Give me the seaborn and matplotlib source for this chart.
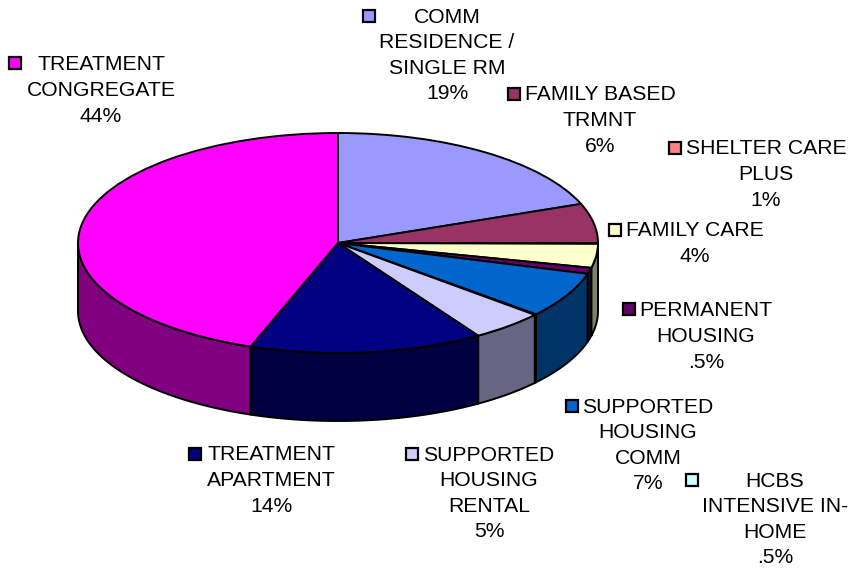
import numpy as np
import matplotlib
matplotlib.use('Agg')
import matplotlib.pyplot as plt
from matplotlib.patches import Rectangle
from matplotlib.transforms import Affine2D
import seaborn as sns

# slices, clockwise from 12 o'clock. values, the printed
# percentages are the rounded ones in the labels
categories = ['COMM\nRESIDENCE /\nSINGLE RM', 'FAMILY BASED\nTRMNT', 'SHELTER CARE\nPLUS',
              'FAMILY CARE', 'PERMANENT\nHOUSING', 'SUPPORTED\nHOUSING\nCOMM',
              'HCBS\nINTENSIVE IN-\nHOME', 'SUPPORTED\nHOUSING\nRENTAL',
              'TREATMENT\nAPARTMENT', 'TREATMENT\nCONGREGATE']
values = [19.2, 5.8, 0.1, 3.5, 0.9, 6.7, 0.1, 4.6, 14.5, 44.5]
percent_text = ['19%', '6%', '1%', '4%', '.5%', '7%', '.5%', '5%', '14%', '44%']
colors = ['#9999FF', '#993366', '#FF8080', '#FFFFCC', '#660066',
          '#0066CC', '#CCFFFF', '#CCCCFF', '#000080', '#FF00FF']

# label layout in pixels: text centre x, first line y, key x, key y
label_pos = [(447, 16, 369, 16), (600, 94, 514, 94), (766, 148, 675, 148),
             (695, 230, 615, 230), (706, 310, 629, 309), (648, 406, 572, 406),
             (775, 480, 692, 480), (489, 454, 412, 454), (271, 454, 195, 454),
             (101, 64, 15, 63)]

W, H = 850, 569
CX, CY, RX, RY, DEPTH = 338, 243, 260, 110, 68
LINE_H = 26

sns.set_theme(style='white')
plt.rcParams['font.family'] = ['Liberation Sans', 'DejaVu Sans']
palette = sns.color_palette(colors)

fig = plt.figure(figsize=(W / 100, H / 100), dpi=100)
ax = fig.add_axes([0, 0, 1, 1])

# top face, the axes limits squash the circle into the ellipse
ax.pie(values, colors=palette, startangle=90, counterclock=False, radius=1,
       wedgeprops={'edgecolor': 'black', 'linewidth': 1.4, 'zorder': 3})
ax.set_aspect('auto')
ax.set_xlim(-CX / RX, (W - CX) / RX)
ax.set_ylim((CY - H) / RY, CY / RY)

# side wall, only the front half shows
edges = np.cumsum([0] + values) / sum(values) * 2 * np.pi
depth = DEPTH / RY
for i in range(len(values)):
    a0 = max(edges[i], np.pi / 2)
    a1 = min(edges[i + 1], 3 * np.pi / 2)
    if a1 <= a0:
        continue
    t = np.linspace(a0, a1, 60)
    x = np.sin(t)
    y = np.cos(t)
    ax.fill(np.r_[x, x[::-1]], np.r_[y, y[::-1] - depth],
            color=np.array(palette[i]) * 0.5, ec='black', lw=1.4, zorder=2)

# labels and their small colour keys, placed in pixels
px = Affine2D().scale(1, -1).translate(0, H)
for i, (tx, ty, kx, ky) in enumerate(label_pos):
    text = categories[i] + '\n' + percent_text[i]
    n = text.count('\n')
    ax.text(tx, ty + n * LINE_H / 2 + 0.5, text, transform=px, ha='center', va='center',
            fontsize=15.2, linespacing=1.44, color='black', zorder=5)
    ax.add_patch(Rectangle((kx - 6, ky - 6), 12, 12, transform=px, fc=colors[i],
                           ec='black', lw=1.6, zorder=5, clip_on=False))

fig.savefig('out.png', dpi=100, facecolor='white')
